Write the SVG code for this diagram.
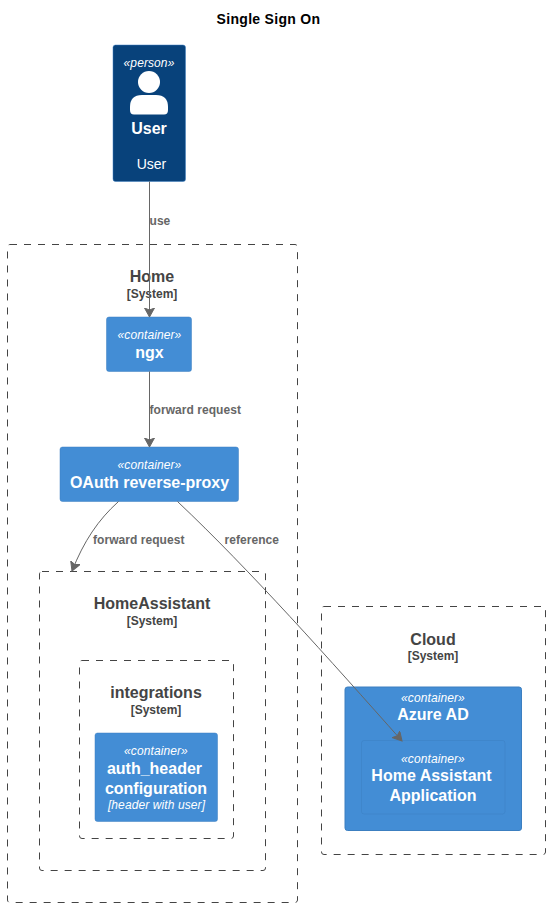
<svg xmlns="http://www.w3.org/2000/svg" width="550" height="907" viewBox="0 0 550 907">
<style>
text{font-family:"Liberation Sans",Arial,sans-serif;text-anchor:middle}
.bnd{fill:none;stroke:#444;stroke-width:1;stroke-dasharray:7 7}
.bt{font-size:16px;font-weight:bold;fill:#444}
.bs{font-size:12px;font-weight:bold;fill:#444}
.c{fill:#438DD5;stroke:#3C7FC0;stroke-width:.5}
.st{font-size:12px;font-style:italic;fill:#fff;letter-spacing:.1px}
.nm{font-size:16px;font-weight:bold;fill:#fff}
.lk{fill:none;stroke:#666;stroke-width:1}
.lb{font-size:12px;font-weight:bold;fill:#666;text-anchor:start;letter-spacing:.05px}
</style>
<defs><marker id="arr" markerUnits="userSpaceOnUse" markerWidth="10" markerHeight="12" refX="9" refY="5" orient="auto"><path d="M0 0L9 5L0 10L2 5Z" fill="#666" stroke="#666"/></marker></defs>
<text x="268.500" y="24" font-size="14" font-weight="bold" fill="#000" letter-spacing=".3">Single Sign On</text>
<g id="boundary-home"><rect class="bnd" x="7.500" y="244.500" width="290" height="658" rx="2.500"/><text class="bt" x="152" y="282">Home</text><text class="bs" x="152" y="298">[System]</text></g>
<g id="boundary-homeassistant"><rect class="bnd" x="39.500" y="571.500" width="226" height="299" rx="2.500"/><text class="bt" x="152" y="609">HomeAssistant</text><text class="bs" x="152" y="625">[System]</text></g>
<g id="boundary-integrations"><rect class="bnd" x="79.500" y="660.500" width="154" height="178" rx="2.500"/><text class="bt" x="156" y="698">integrations</text><text class="bs" x="156" y="714">[System]</text></g>
<g id="boundary-cloud"><rect class="bnd" x="321.500" y="606.500" width="224" height="248" rx="2.500"/><text class="bt" x="433" y="645">Cloud</text><text class="bs" x="433" y="660">[System]</text></g>
<g id="user"><rect x="113" y="45" width="72.500" height="136.500" rx="2.500" fill="#08427B" stroke="#3C7FC0" stroke-width=".5"/><text class="st" x="149" y="67">«person»</text><circle cx="149" cy="82" r="11" fill="#fff"/><path d="M130 110V107Q130 95 142 95H156Q168 95 168 107V110Q168 114.500 164 114.500H134Q130 114.500 130 110Z" fill="#fff"/><text class="nm" x="149" y="134">User</text><text x="151.500" y="169" font-size="14" fill="#fff">User</text></g>
<g id="ngx"><rect class="c" x="106.500" y="317" width="85" height="54.500" rx="2.500"/><text class="st" x="149.500" y="339">«container»</text><text class="nm" x="149.500" y="358">ngx</text></g>
<g id="oauth"><rect class="c" x="60" y="447" width="178.500" height="54.500" rx="2.500"/><text class="st" x="149.500" y="469">«container»</text><text class="nm" x="149.500" y="488">OAuth reverse-proxy</text></g>
<g id="auth-header"><rect class="c" x="95" y="733" width="122.500" height="88.500" rx="2.500"/><text class="st" x="156" y="755">«container»</text><text class="nm" x="154.500" y="774">auth_header</text><text class="nm" x="156" y="794">configuration</text><text class="st" x="156.500" y="809">[header with user]</text></g>
<g id="azure-ad"><rect x="345" y="687" width="176.500" height="143.500" rx="2.500" fill="#438DD5" stroke="#3C7FC0"/><text class="st" x="433" y="702">«container»</text><text class="nm" x="433" y="720">Azure AD</text></g>
<g id="ha-app"><rect x="361.500" y="740.500" width="143.500" height="73.500" rx="2.500" fill="#438DD5" stroke="#3C7FC0" stroke-width=".5"/><text class="st" x="433" y="763">«container»</text><text class="nm" x="431.500" y="781">Home Assistant</text><text class="nm" x="433" y="801">Application</text></g>
<g id="connectors">
<path class="lk" d="M149.500 181.500V317" marker-end="url(#arr)"/>
<path class="lk" d="M149.500 371.500V447" marker-end="url(#arr)"/>
<path class="lk" d="M118.500 501.500C98 520 84 541 72 571" marker-end="url(#arr)"/>
<path class="lk" d="M177.500 501.500C250 570 330 660 402 741" marker-end="url(#arr)"/>
<text class="lb" x="149.500" y="225">use</text>
<text class="lb" x="149.500" y="414">forward request</text>
<text class="lb" x="93" y="544">forward request</text>
<text class="lb" x="224.500" y="544">reference</text>
</g>
</svg>
